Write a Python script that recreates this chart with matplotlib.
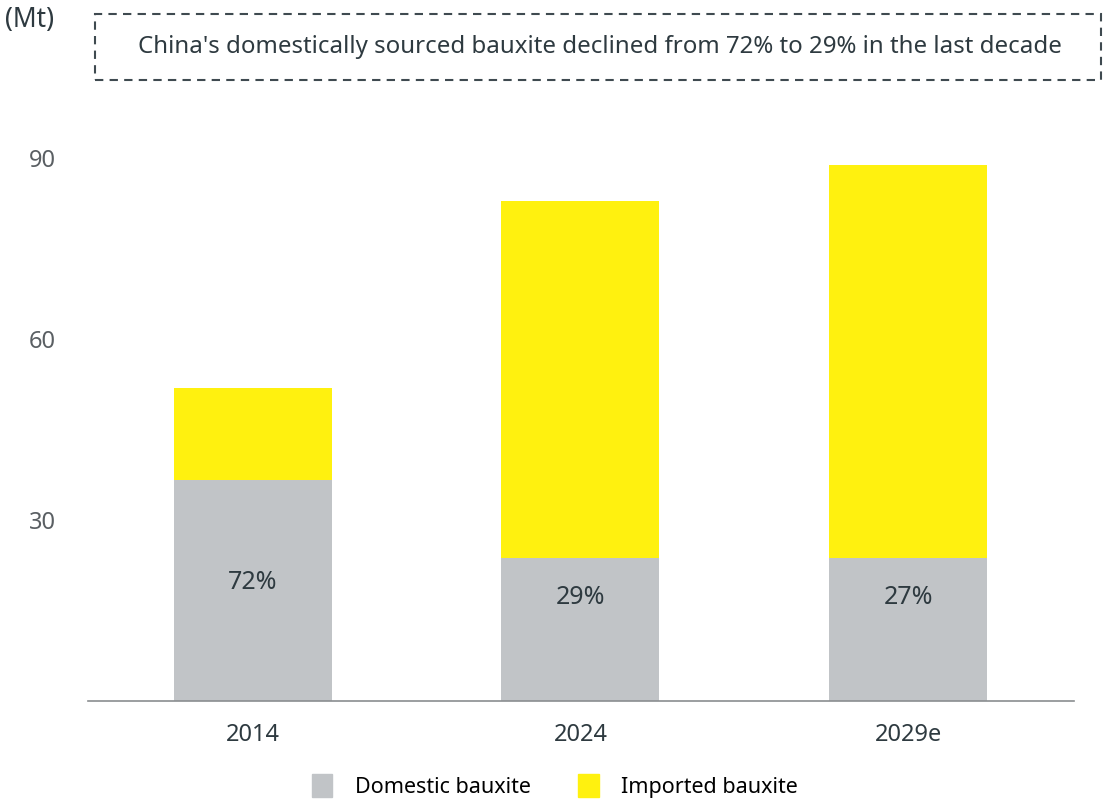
import matplotlib
matplotlib.use('Agg')
import matplotlib.pyplot as plt
from matplotlib.patches import Rectangle, Patch

plt.rcParams['font.family'] = ['Noto Sans', 'DejaVu Sans']

years = ['2014', '2024', '2029e']
domestic = [36.7, 23.7, 23.7]
imported = [15.2, 59.2, 65.2]
share_labels = ['72%', '29%', '27%']
label_heights = [19.6, 17.1, 17.1]
yticks = [30, 60, 90]

GREY = '#C1C4C7'
YELLOW = '#FFF10F'
TEXT = '#2E3A40'
TICK = '#5A5F63'

fig = plt.figure(figsize=(11.04, 8.09), dpi=100)
ax = fig.add_axes([0.0797, 0.1335, 0.893, 0.7305])

x = list(range(len(years)))
ax.bar(x, domestic, width=0.482, color=GREY, label='Domestic bauxite')
ax.bar(x, imported, width=0.482, bottom=domestic, color=YELLOW,
       label='Imported bauxite')
for xi, lab, h in zip(x, share_labels, label_heights):
    ax.text(xi, h, lab, ha='center', va='center', fontsize=18, color=TEXT)

ax.set_xlim(-0.503, 2.506)
ax.set_ylim(0, 98)
ax.set_xticks(x)
ax.set_xticklabels(years, fontsize=17, color=TEXT)
ax.set_yticks(yticks)
ax.set_yticklabels([str(v) for v in yticks], fontsize=17, color=TICK)
ax.tick_params(axis='both', length=0)
ax.tick_params(axis='y', pad=23)
ax.tick_params(axis='x', pad=16)
for s in ['top', 'right', 'left']:
    ax.spines[s].set_visible(False)
ax.spines['bottom'].set_color('#8A8D90')
ax.spines['bottom'].set_linewidth(1.2)

# unit label and dashed callout box
fig.text(5 / 1104, 1 - 20 / 809, '(Mt)', fontsize=19, color=TEXT,
         ha='left', va='center')
fig.patches.append(Rectangle((95 / 1104, 1 - 80 / 809), 1006 / 1104, 66 / 809,
                             transform=fig.transFigure, fill=False,
                             edgecolor='#3F4A50', linewidth=1.5,
                             linestyle=(0, (4, 3))))
fig.text(600 / 1104, 1 - 47 / 809,
         "China's domestically sourced bauxite declined from 72% to 29% in the last decade",
         fontsize=17.3, color=TEXT, ha='center', va='center')

handles = [Patch(color=GREY), Patch(color=YELLOW)]
fig.legend(handles, ['Domestic bauxite', 'Imported bauxite'], ncol=2,
           loc='center', bbox_to_anchor=(555 / 1104, 1 - 786 / 809),
           frameon=False, fontsize=15.5, handlelength=0.95, handleheight=1.3,
           handletextpad=1.05, columnspacing=2.2)

fig.savefig('out.png', dpi=100)
